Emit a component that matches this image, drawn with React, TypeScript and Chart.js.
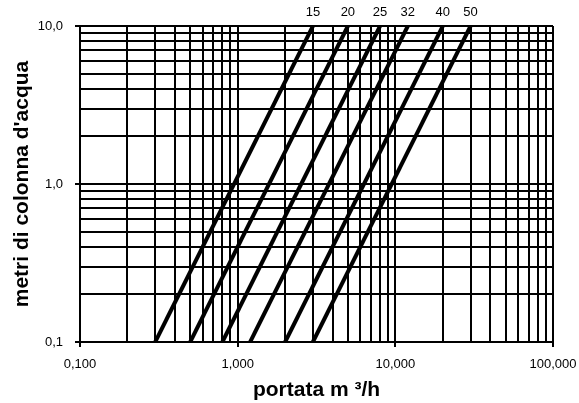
import React, { useEffect, useRef } from "react";
import { Chart, registerables } from "chart.js";

Chart.register(...registerables);

// Pipe size labels (DN) for each curve
const sizeLabels = ["15", "20", "25", "32", "40", "50"];
// Flow (m³/h) where each curve crosses 0,1 m head
const flowAtLowHead = [0.3, 0.5, 0.8, 1.2, 2, 3];
// Flow (m³/h) where each curve crosses 10 m head
const flowAtHighHead = [3, 5, 8, 12, 20, 30];
// Head range (m of water column)
const headRange = [0.1, 10];

// Axis ticks
const xMajorTicks = [0.1, 1, 10, 100];
const xTickLabels = ["0,100", "1,000", "10,000", "100,000"];
const yMajorTicks = [0.1, 1, 10];
const yTickLabels = ["0,1", "1,0", "10,0"];
const gridMultipliers = [1, 2, 3, 4, 5, 6, 7, 8, 9];

const FONT = 'Arial, "Liberation Sans", sans-serif';

function gridValues(majors: number[]): number[] {
  const out: number[] = [];
  for (let i = 0; i < majors.length - 1; i++) {
    for (const m of gridMultipliers) out.push(majors[i] * m);
  }
  out.push(majors[majors.length - 1]);
  return out;
}

function majorIndex(majors: number[], v: number): number {
  return majors.findIndex((m) => Math.abs(m - v) / m < 1e-6);
}

export default function App() {
  const canvasRef = useRef<HTMLCanvasElement | null>(null);

  useEffect(() => {
    if (!canvasRef.current) return;
    const datasets = sizeLabels.map((lbl, i) => ({
      label: lbl,
      data: [
        { x: flowAtLowHead[i], y: headRange[0] },
        { x: flowAtHighHead[i], y: headRange[1] },
      ],
      borderColor: "#000",
      borderWidth: 4,
      pointRadius: 0,
      showLine: true,
      fill: false,
    }));

    const labelPlugin = {
      id: "curveLabels",
      afterDatasetsDraw(chart: any) {
        const ctx = chart.ctx;
        const xs = chart.scales.x;
        ctx.save();
        ctx.font = `13px ${FONT}`;
        ctx.fillStyle = "#000";
        ctx.textAlign = "center";
        ctx.textBaseline = "middle";
        sizeLabels.forEach((lbl, i) => {
          const px = xs.getPixelForValue(flowAtHighHead[i]);
          ctx.fillText(lbl, px, 12);
        });
        ctx.restore();
      },
    };

    const chart = new Chart(canvasRef.current, {
      type: "scatter",
      data: { datasets },
      plugins: [labelPlugin],
      options: {
        animation: false,
        responsive: false,
        layout: { padding: { left: 0, top: 26, right: 26, bottom: 0 } },
        plugins: {
          legend: { display: false },
          tooltip: { enabled: false },
        },
        scales: {
          x: {
            type: "logarithmic",
            min: 0.1,
            max: 100,
            afterBuildTicks: (scale: any) => {
              scale.ticks = gridValues(xMajorTicks).map((v) => ({ value: v }));
            },
            afterFit: (scale: any) => {
              scale.height = 61;
              scale.paddingLeft = 0;
              scale.paddingRight = 0;
            },
            ticks: {
              autoSkip: false,
              maxRotation: 0,
              padding: 10,
              color: "#000",
              font: { size: 13, family: FONT },
              callback: (v: any) => {
                const idx = majorIndex(xMajorTicks, Number(v));
                return idx >= 0 ? xTickLabels[idx] : "";
              },
            },
            grid: {
              color: "#000",
              lineWidth: 2,
              tickLength: 5,
              tickColor: (c: any) =>
                c.tick && majorIndex(xMajorTicks, c.tick.value) >= 0 ? "#000" : "rgba(0,0,0,0)",
            },
            border: { display: true, color: "#000", width: 2 },
            title: {
              display: true,
              text: "portata m ³/h",
              color: "#000",
              font: { size: 21, weight: "bold", family: FONT },
              padding: { top: 0, bottom: 0 },
            },
          },
          y: {
            type: "logarithmic",
            min: 0.1,
            max: 10,
            afterBuildTicks: (scale: any) => {
              scale.ticks = gridValues(yMajorTicks).map((v) => ({ value: v }));
            },
            afterFit: (scale: any) => {
              scale.width = 80;
              scale.paddingTop = 0;
              scale.paddingBottom = 0;
            },
            ticks: {
              autoSkip: false,
              padding: 12,
              color: "#000",
              font: { size: 13, family: FONT },
              callback: (v: any) => {
                const idx = majorIndex(yMajorTicks, Number(v));
                return idx >= 0 ? yTickLabels[idx] : "";
              },
            },
            grid: {
              color: "#000",
              lineWidth: 2,
              tickLength: 5,
              tickColor: (c: any) =>
                c.tick && majorIndex(yMajorTicks, c.tick.value) >= 0 ? "#000" : "rgba(0,0,0,0)",
            },
            border: { display: true, color: "#000", width: 2 },
            title: {
              display: true,
              text: "metri di colonna d'acqua",
              color: "#000",
              font: { size: 21, weight: "bold", family: FONT },
              padding: { top: 10, bottom: 0 },
            },
          },
        },
      } as any,
    });
    return () => chart.destroy();
  }, []);

  return (
    <div
      style={{
        position: "absolute",
        left: 0,
        top: 0,
        width: 579,
        height: 403,
        background: "#fff",
      }}
    >
      <canvas ref={canvasRef} width={579} height={403} style={{ display: "block" }} />
    </div>
  );
}
